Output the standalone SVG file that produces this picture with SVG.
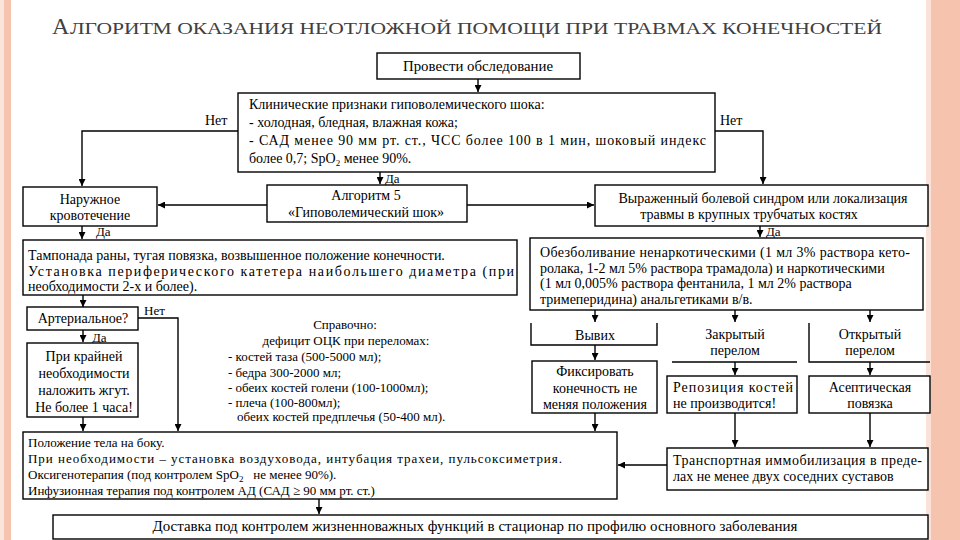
<svg xmlns="http://www.w3.org/2000/svg" width="960" height="540" viewBox="0 0 960 540">
<defs>
<marker id="ah" viewBox="0 0 10 10" refX="10" refY="5" markerWidth="7" markerHeight="7" markerUnits="userSpaceOnUse" orient="auto">
<path d="M0,0 L10,5 L0,10 z" fill="#000"/>
</marker>
<style>
.t{font-family:'Liberation Serif','DejaVu Serif','Noto Serif',Tinos,'Times New Roman',serif;fill:#000;font-size:14px}
.s{font-size:13px}
.c{text-anchor:middle}
.b{fill:#fff;stroke:#000;stroke-width:1.4}
.ln{fill:none;stroke:#000;stroke-width:1.4}
.ar{fill:none;stroke:#000;stroke-width:1.4;marker-end:url(#ah)}
.ti{font-family:'Liberation Serif','DejaVu Serif','Noto Serif',Tinos,'Times New Roman',serif;fill:#404040}
</style>
</defs>
<rect width="960" height="540" fill="#fff"/>
<rect x="0" y="0" width="4" height="540" fill="#fbe4dc"/>
<rect x="4" y="0" width="7" height="540" fill="#f6c3ae"/>
<rect x="926" y="0" width="5" height="540" fill="#fbe2d8"/>
<rect x="931" y="0" width="29" height="540" fill="#f5c3ae"/>

<g id="title">
<text class="ti" x="52" y="34" font-size="24">А</text>
<text class="ti" x="70" y="34" font-size="17" textLength="812" lengthAdjust="spacingAndGlyphs">ЛГОРИТМ ОКАЗАНИЯ НЕОТЛОЖНОЙ ПОМОЩИ ПРИ ТРАВМАХ КОНЕЧНОСТЕЙ</text>
</g>

<g id="connectors">
<path class="ar" d="M478,79 V92"/>
<path class="ar" d="M238,131 H82 V186"/>
<path class="ar" d="M715,131 H763 V184"/>
<path class="ar" d="M380,172 V184"/>
<path class="ar" d="M267,205 H158"/>
<path class="ar" d="M467,205 H594"/>
<path class="ar" d="M82,226 V239"/>
<path class="ar" d="M760,226 V237"/>
<path class="ar" d="M83,295 V307"/>
<path class="ar" d="M138,318 H178 V431"/>
<path class="ar" d="M83,330 V342"/>
<path class="ar" d="M83,417 V431"/>
<path class="ar" d="M595,310 V322"/>
<path class="ar" d="M735,310 V322"/>
<path class="ar" d="M870,310 V322"/>
<path class="ar" d="M595,345 V360"/>
<path class="ar" d="M735,362 V375"/>
<path class="ar" d="M870,362 V375"/>
<path class="ar" d="M595,413 V431"/>
<path class="ar" d="M735,413 V447"/>
<path class="ar" d="M870,413 V447"/>
<path class="ar" d="M667,465 H618"/>
<path class="ar" d="M319,499 V514"/>
<text class="t" x="205" y="125">Нет</text>
<text class="t" x="720" y="125">Нет</text>
<text class="t s" x="385" y="183">Да</text>
<text class="t s" x="96" y="236">Да</text>
<text class="t s" x="766" y="236">Да</text>
<text class="t s" x="144" y="315">Нет</text>
<text class="t s" x="92" y="342">Да</text>
</g>

<g id="n-exam">
<rect class="b" x="377" y="53" width="203" height="26"/>
<text class="t c" x="478" y="71" font-size="12" textLength="150" lengthAdjust="spacingAndGlyphs">Провести обследование</text>
</g>

<g id="n-clinical">
<rect class="b" x="238" y="93" width="477" height="79"/>
<text class="t" x="249" y="109">Клинические признаки гиповолемического шока:</text>
<text class="t" x="249" y="127">- холодная, бледная, влажная кожа;</text>
<text class="t" x="249" y="145" textLength="457">- САД менее 90 мм рт. ст., ЧСС более 100 в 1 мин, шоковый индекс</text>
<text class="t" x="249" y="163">более 0,7; SpO<tspan font-size="9" dy="3">2</tspan><tspan dy="-3"> менее 90%.</tspan></text>
</g>

<g id="n-bleeding">
<rect class="b" x="23" y="187" width="134" height="39"/>
<text class="t c" x="90" y="204">Наружное</text>
<text class="t c" x="90" y="220">кровотечение</text>
</g>

<g id="n-alg5">
<rect class="b" x="267" y="185" width="200" height="37"/>
<text class="t c" x="366" y="200">Алгоритм 5</text>
<text class="t c" x="366" y="217" font-size="13">«Гиповолемический шок»</text>
</g>

<g id="n-pain">
<rect class="b" x="595" y="185" width="333" height="41"/>
<text class="t c" x="763" y="203">Выраженный болевой синдром или локализация</text>
<text class="t c" x="749" y="219">травмы в крупных трубчатых костях</text>
</g>

<g id="n-tamponade">
<rect class="b" x="23" y="240" width="494" height="55"/>
<text class="t" x="28" y="260">Тампонада раны, тугая повязка, возвышенное положение конечности.</text>
<text class="t" x="28" y="276" textLength="486">Установка периферического катетера наибольшего диаметра (при</text>
<text class="t" x="28" y="291">необходимости 2-х и более).</text>
</g>

<g id="n-analgesia">
<rect class="b" x="530" y="238" width="393" height="72"/>
<text class="t" x="540" y="257" textLength="370">Обезболивание ненаркотическими (1 мл 3% раствора кето-</text>
<text class="t" x="540" y="273">ролака, 1-2 мл 5% раствора трамадола) и наркотическими</text>
<text class="t" x="540" y="288">(1 мл 0,005% раствора фентанила, 1 мл 2% раствора</text>
<text class="t" x="540" y="304">тримеперидина) анальгетиками в/в.</text>
</g>

<g id="n-arterial">
<rect class="b" x="27" y="307" width="111" height="23"/>
<text class="t c" x="83" y="323">Артериальное?</text>
</g>

<g id="n-tourniquet">
<rect class="b" x="27" y="343" width="111" height="74"/>
<text class="t c" x="84" y="361">При крайней</text>
<text class="t c" x="84" y="378">необходимости</text>
<text class="t c" x="84" y="395">наложить жгут.</text>
<text class="t c" x="84" y="412">Не более 1 часа!</text>
</g>

<g id="n-reference">
<text class="t s c" x="345" y="329">Справочно:</text>
<text class="t s c" x="346" y="345">дефицит ОЦК при переломах:</text>
<text class="t s" x="228" y="361">- костей таза (500-5000 мл);</text>
<text class="t s" x="228" y="377">- бедра 300-2000 мл;</text>
<text class="t s" x="228" y="392">- обеих костей голени (100-1000мл);</text>
<text class="t s" x="228" y="407">- плеча (100-800мл);</text>
<text class="t s" x="237" y="421">обеих костей предплечья (50-400 мл).</text>
</g>

<g id="n-dislocation">
<path class="ln" d="M531,323 V345 H657 V323"/>
<text class="t c" x="595" y="340">Вывих</text>
</g>

<g id="n-closed">
<path class="ln" d="M672,362 H797"/>
<text class="t c" x="735" y="339">Закрытый</text>
<text class="t c" x="735" y="355">перелом</text>
</g>

<g id="n-open">
<path class="ln" d="M809,323 V362 H930"/>
<text class="t c" x="870" y="339">Открытый</text>
<text class="t c" x="870" y="355">перелом</text>
</g>

<g id="n-fix">
<rect class="b" x="532" y="361" width="125" height="52"/>
<text class="t c" x="595" y="376">Фиксировать</text>
<text class="t c" x="595" y="393">конечность не</text>
<text class="t c" x="595" y="409">меняя положения</text>
</g>

<g id="n-reposition">
<rect class="b" x="667" y="376" width="130" height="37"/>
<text class="t" x="673" y="392" textLength="120">Репозиция костей</text>
<text class="t" x="673" y="408">не производится!</text>
</g>

<g id="n-aseptic">
<rect class="b" x="809" y="376" width="121" height="37"/>
<text class="t c" x="870" y="392">Асептическая</text>
<text class="t c" x="870" y="408">повязка</text>
</g>

<g id="n-position">
<rect class="b" x="23" y="432" width="594" height="67"/>
<text class="t s" x="28" y="447">Положение тела на боку.</text>
<text class="t s" x="28" y="463" textLength="534">При необходимости – установка воздуховода, интубация трахеи, пульсоксиметрия.</text>
<text class="t s" x="28" y="479">Оксигенотерапия (под контролем SpO<tspan font-size="9" dy="3">2</tspan><tspan dy="-3" xml:space="preserve">   не менее 90%).</tspan></text>
<text class="t s" x="28" y="495">Инфузионная терапия под контролем АД (САД ≥ 90 мм рт. ст.)</text>
</g>

<g id="n-transport">
<rect class="b" x="667" y="448" width="261" height="42"/>
<text class="t" x="673" y="465" textLength="249">Транспортная иммобилизация в преде-</text>
<text class="t" x="673" y="481">лах не менее двух соседних суставов</text>
</g>

<g id="n-delivery">
<rect class="b" x="53" y="515" width="875" height="24"/>
<text class="t c" x="475" y="531" font-size="12" textLength="645" lengthAdjust="spacingAndGlyphs">Доставка под контролем жизненноважных функций в стационар по профилю основного заболевания</text>
</g>
</svg>
